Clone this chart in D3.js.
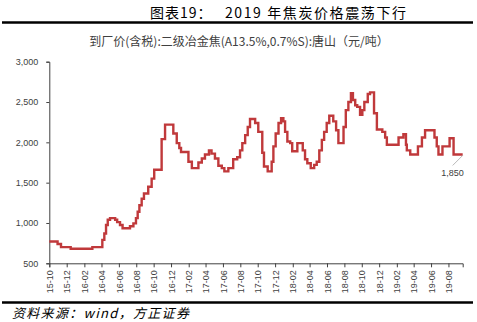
<!DOCTYPE html>
<html><head><meta charset="utf-8">
<script src="https://cdn.jsdelivr.net/npm/d3@7"></script>
<style>
html,body{margin:0;padding:0;background:#fff;}
svg{display:block;}
</style></head>
<body>
<svg id="c" width="477" height="322"></svg>
<script>
const titleLabel = "图表19：";
const titleText = "2019 年焦炭价格震荡下行";
const subtitleText = "到厂价(含税):二级冶金焦(A13.5%,0.7%S):唐山（元/吨）";
const sourceText = "资料来源：wind，方正证券";
const yTicks = [500, 1000, 1500, 2000, 2500, 3000];
const dates = ["2015-10-01","2015-10-30","2015-11-11","2015-12-15","2016-02-29","2016-04-04","2016-04-11","2016-04-17","2016-04-23","2016-05-01","2016-05-19","2016-05-26","2016-06-05","2016-06-14","2016-07-10","2016-07-22","2016-07-31","2016-08-06","2016-08-12","2016-08-20","2016-08-28","2016-09-12","2016-09-24","2016-10-03","2016-10-29","2016-11-10","2016-12-09","2016-12-21","2016-12-30","2017-01-05","2017-01-31","2017-02-12","2017-03-07","2017-03-19","2017-03-30","2017-04-13","2017-04-22","2017-05-04","2017-05-16","2017-05-28","2017-06-06","2017-06-20","2017-07-07","2017-07-21","2017-07-31","2017-08-08","2017-08-18","2017-08-27","2017-09-04","2017-09-22","2017-10-03","2017-10-17","2017-10-23","2017-11-05","2017-11-19","2017-11-25","2017-12-03","2017-12-13","2017-12-22","2017-12-30","2018-01-05","2018-01-13","2018-01-23","2018-01-30","2018-02-17","2018-03-08","2018-03-16","2018-03-24","2018-04-05","2018-04-17","2018-04-26","2018-05-05","2018-05-14","2018-05-22","2018-05-31","2018-06-09","2018-06-23","2018-07-03","2018-07-11","2018-07-29","2018-08-06","2018-08-15","2018-08-24","2018-08-31","2018-09-08","2018-09-15","2018-09-25","2018-10-03","2018-10-10","2018-10-22","2018-10-30","2018-11-13","2018-11-23","2018-12-12","2018-12-22","2018-12-28","2019-02-07","2019-02-24","2019-03-05","2019-03-08","2019-03-20","2019-04-16","2019-04-30","2019-05-11","2019-06-13","2019-06-21","2019-06-27","2019-07-11","2019-08-05","2019-08-19","2019-09-20"];
const prices = [770,740,700,680,700,790,870,975,1040,1060,1040,1010,975,935,960,995,1060,1140,1220,1300,1365,1450,1550,1660,2040,2220,2110,1990,1930,1880,1760,1680,1750,1800,1850,1900,1860,1800,1710,1680,1640,1680,1790,1815,1900,1990,2090,2190,2290,2240,2130,1870,1700,1640,1760,1950,2110,2240,2300,2260,2130,2010,1990,1890,1990,1900,1790,1740,1680,1720,1760,1900,2030,2130,2240,2330,2260,2150,1990,2190,2400,2500,2610,2525,2460,2440,2340,2400,2500,2600,2620,2360,2160,2130,2060,1970,2060,2100,1970,1900,1850,1950,2060,2150,2060,1950,1850,1950,2050,1850,1850];
const lastLabel = "1,850";

const parse = d3.timeParse("%Y-%m-%d");
const data = dates.map((d, i) => ({date: parse(d), value: prices[i]}));

const svg = d3.select("#c");
const x = d3.scaleTime().domain([parse("2015-10-01"), parse("2019-09-20")]).range([49.3, 462.7]);
const y = d3.scaleLinear().domain([500, 3000]).range([263.3, 61.7]);
const cjk = "'Noto Sans CJK SC', 'Noto Sans', sans-serif";
const latin = "'Liberation Sans', Arial, sans-serif";

// title
svg.append("text").attr("x", 150).attr("y", 18)
  .attr("font-family", cjk).attr("font-size", 14).attr("fill", "#000").attr("letter-spacing", 1)
  .text(titleLabel);
svg.append("text").attr("x", 225).attr("y", 18)
  .attr("font-family", cjk).attr("font-size", 14).attr("fill", "#000").attr("letter-spacing", 1.6)
  .text(titleText);
svg.append("line").attr("x1", 2).attr("x2", 473).attr("y1", 22.5).attr("y2", 22.5)
  .attr("stroke", "#000").attr("stroke-width", 2.5);

svg.append("text").attr("x", 239).attr("y", 46).attr("text-anchor", "middle")
  .attr("font-family", cjk).attr("font-size", 12).attr("fill", "#404040")
  .text(subtitleText);

// y axis
const yAxis = d3.axisLeft(y).tickValues(yTicks).tickFormat(d3.format(",")).tickSize(3).tickPadding(8);
const gy = svg.append("g").attr("transform", "translate(49.3,0)").call(yAxis);
gy.select(".domain").attr("stroke", "#404040");
gy.selectAll(".tick line").attr("stroke", "#404040");
gy.selectAll("text").attr("font-family", latin).attr("font-size", 9).attr("fill", "#404040");

// x axis
const xTicks = d3.timeMonth.range(parse("2015-10-01"), parse("2019-08-02"), 2);
const xAxis = d3.axisBottom(x).tickValues(xTicks).tickFormat(d3.timeFormat("%y-%m")).tickSize(4).tickPadding(3);
const gx = svg.append("g").attr("transform", "translate(0,263.3)").call(xAxis);
gx.select(".domain").attr("stroke", "#404040");
gx.selectAll(".tick line").attr("stroke", "#404040");
gx.selectAll("text").attr("font-family", latin).attr("font-size", 9).attr("fill", "#404040")
  .attr("transform", "rotate(-90)").attr("text-anchor", "end").attr("dy", "0.35em").attr("y", 0).attr("x", -7);

// line
const line = d3.line().x(d => x(d.date)).y(d => y(d.value)).curve(d3.curveStepAfter);
svg.append("path").datum(data).attr("d", line).attr("fill", "none")
  .attr("stroke", "#C0393B").attr("stroke-width", 2.4).attr("stroke-linejoin", "miter");

// last label
const last = data[data.length - 1];
svg.append("line").attr("x1", x(last.date)).attr("y1", y(last.value) + 1)
  .attr("x2", x(last.date) - 10).attr("y2", y(last.value) + 11)
  .attr("stroke", "#a6a6a6").attr("stroke-width", 0.8);
svg.append("text").attr("x", x(last.date) + 1).attr("y", y(last.value) + 22).attr("text-anchor", "end")
  .attr("font-family", latin).attr("font-size", 9).attr("fill", "#404040")
  .text(lastLabel);

// bottom rule and source
svg.append("line").attr("x1", 2).attr("x2", 473).attr("y1", 302.5).attr("y2", 302.5)
  .attr("stroke", "#000").attr("stroke-width", 2.5);
svg.append("text").attr("x", 12).attr("y", 318)
  .attr("font-family", cjk).attr("font-size", 13).attr("font-style", "italic").attr("fill", "#000").attr("letter-spacing", 1.3)
  .text(sourceText);
</script>
</body></html>
